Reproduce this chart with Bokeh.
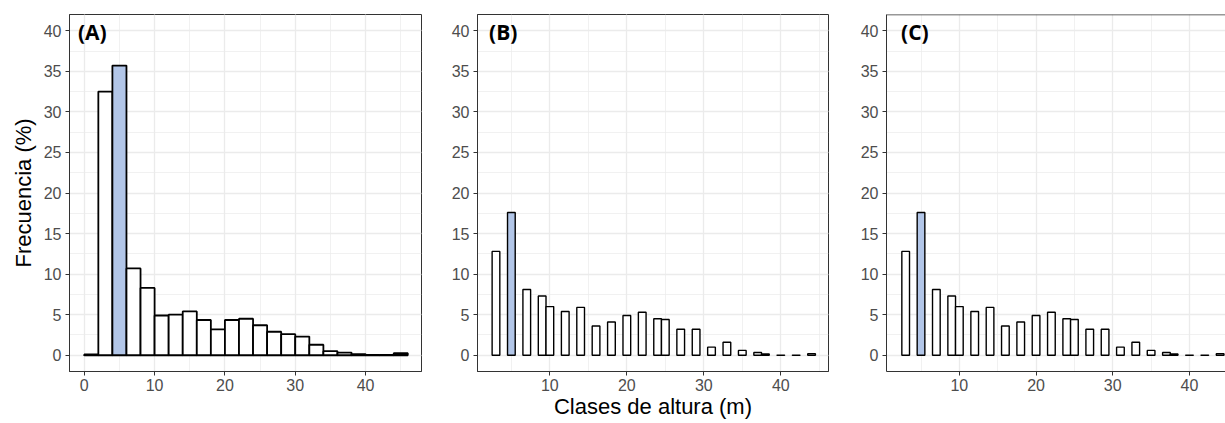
from bokeh.plotting import figure
from bokeh.layouts import row
from bokeh.models import ColumnDataSource, SingleIntervalTicker, Label, Range1d, Span
from bokeh.embed import file_html
from bokeh.resources import INLINE

# ---- data ----
a_centers = [1, 3, 5, 7, 9, 11, 13, 15, 17, 19, 21, 23, 25, 27, 29, 31, 33, 35, 37, 39, 41, 43, 45]
a_values = [0.1, 32.5, 35.7, 10.7, 8.3, 4.9, 5.0, 5.4, 4.35, 3.2, 4.35, 4.5, 3.7, 2.9, 2.6, 2.3,
            1.3, 0.5, 0.33, 0.15, 0.05, 0.05, 0.25]
a_highlight = 5

b_centers = [3, 5, 7, 9, 10, 12, 14, 16, 18, 20, 22, 24, 25, 27, 29, 31, 33, 35, 37, 38, 40, 42, 44]
b_values = [12.8, 17.6, 8.1, 7.3, 6.0, 5.4, 5.9, 3.6, 4.1, 4.9, 5.3, 4.5, 4.4, 3.2, 3.2, 1.0,
            1.6, 0.6, 0.35, 0.15, 0.02, 0.02, 0.2]
c_centers = list(b_centers)
c_values = list(b_values)
bc_highlight = 5

panel_labels = ["(A)", "(B)", "(C)"]
y_ticks_interval = 5
x_label = "Clases de altura (m)"
y_label = "Frecuencia (%)"

HL = "#B2C6E8"
GRID = "#EBEBEB"
BORDER = "#333333"
TICKTXT = "#4D4D4D"
FONT = "Liberation Sans"


def make_panel(centers, values, hl, bar_w, xr, width, ml, mr, label, lab_x, show_ylabel, show_xlabel,
               bar_lw, outline=True):
    p = figure(width=width, height=423, output_backend="svg", toolbar_location=None,
               x_range=Range1d(*xr), y_range=Range1d(-2, 42),
               min_border_left=ml, min_border_right=mr, min_border_top=14, min_border_bottom=52)
    fills = [HL if c == hl else "white" for c in centers]
    src = ColumnDataSource(dict(x=centers, top=values, fill=fills))
    p.vbar(x="x", top="top", bottom=0, width=bar_w, source=src, fill_color="fill",
           line_color="black", line_width=bar_lw)
    p.xaxis.ticker = SingleIntervalTicker(interval=10, num_minor_ticks=2)
    p.yaxis.ticker = SingleIntervalTicker(interval=y_ticks_interval, num_minor_ticks=2)
    for ax in (p.xaxis, p.yaxis):
        ax.axis_line_color = BORDER
        ax.major_tick_line_color = BORDER
        ax.minor_tick_line_color = None
        ax.major_tick_out = 4
        ax.major_tick_in = 0
        ax.major_label_text_font = FONT
        ax.major_label_text_font_size = "16px"
        ax.major_label_text_color = TICKTXT
        ax.axis_label_text_font = FONT
        ax.axis_label_text_font_size = "22px"
        ax.axis_label_text_font_style = "normal"
        ax.axis_label_text_color = "black"
    p.xaxis.major_label_standoff = 3
    p.yaxis.major_label_standoff = 4
    for g in (p.xgrid, p.ygrid):
        g.grid_line_color = GRID
        g.grid_line_width = 1.3
        g.minor_grid_line_color = GRID
        g.minor_grid_line_width = 0.7
    if show_ylabel:
        p.yaxis.axis_label = y_label
        p.yaxis.axis_label_standoff = 5
    if show_xlabel:
        p.xaxis.axis_label = x_label
        p.xaxis.axis_label_standoff = 0
    if outline:
        p.outline_line_color = BORDER
        p.outline_line_width = 1
    else:
        p.outline_line_color = None
        p.add_layout(Span(location=42, dimension="width", line_color=BORDER, line_width=1.5))
    p.add_layout(Label(x=lab_x, y=39.9, text=label, text_font="Open Sans", text_font_style="bold",
                       text_font_size="21px", text_color="black", text_baseline="middle"))
    p.background_fill_color = "white"
    p.border_fill_color = "white"
    return p


pa = make_panel(a_centers, a_values, a_highlight, 2.0, (-2.1, 47.95), 440, 69, 19, panel_labels[0],
                -0.9, True, False, 1.8)
pb = make_panel(b_centers, b_values, bc_highlight, 1.0, (0.6, 46.2), 408, 37, 20, panel_labels[1],
                2.1, False, True, 1.4)
pc = make_panel(c_centers, c_values, bc_highlight, 1.0, (0.5, 44.7), 377, 38, 0, panel_labels[2],
                2.4, False, False, 1.4, outline=False)

layout = row(pa, pb, pc)
open("out.html", "w").write(file_html(layout, INLINE))
